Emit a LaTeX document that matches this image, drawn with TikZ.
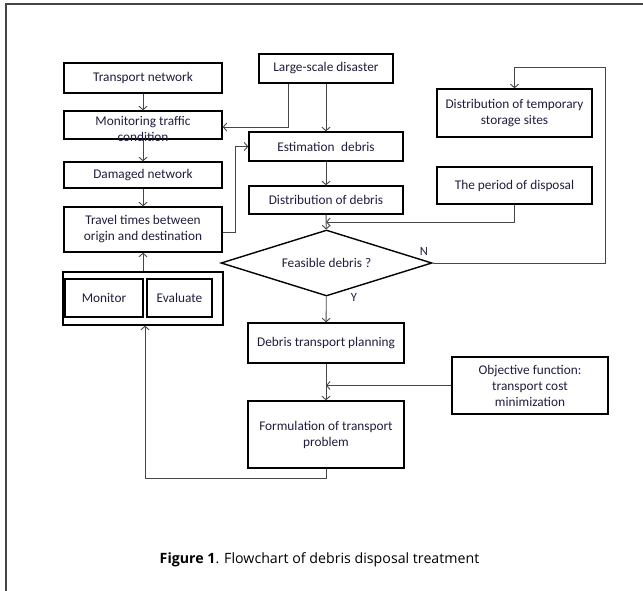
\documentclass[tikz,border=0pt]{standalone}
\usepackage{fontspec}
\setmainfont{Carlito}
\newfontfamily\capfont{Open Sans}
\usetikzlibrary{arrows.meta,shapes.geometric}
\definecolor{txt}{RGB}{30,30,60}
\definecolor{lin}{RGB}{70,70,70}
\tikzset{
  box/.style={draw=black,line width=1.4pt,rectangle,inner sep=0pt,align=center,text=txt,font=\fontsize{13.3}{16}\selectfont},
  dia/.style={draw=black,line width=1.4pt,diamond,aspect=3.2,inner sep=0pt,text=txt,font=\fontsize{13.3}{16}\selectfont},
  conn/.style={draw=lin,line width=0.9pt,-{Straight Barb[length=3.5pt,width=8pt]}},
  lbl/.style={text=txt,font=\fontsize{12.5}{14}\selectfont,inner sep=0pt}
}
\begin{document}
\begin{tikzpicture}[x=1pt,y=-1pt]
\useasboundingbox (0,0) rectangle (643,591);
% frame
\draw[draw=lin,line width=1.5pt] (643,4) -- (6,4) -- (6,591);
% left column
\node[box,minimum width=158,minimum height=30] (tn) at (143,78) {Transport network};
\node[box,minimum width=158,minimum height=28] (mt) at (143,125) {};
\node[box,draw=none] (mtt) at (143,129) {Monitoring traffic\\condition};
\node[box,minimum width=158,minimum height=26] (dn) at (143,175) {Damaged network};
\node[box,minimum width=158,minimum height=45] (tt) at (143,229.5) {Travel times between\\origin and destination};
\node[box,minimum width=160,minimum height=53] (me) at (143,298.5) {};
\node[box,minimum width=78,minimum height=38] (mon) at (104,298) {Monitor};
\node[box,minimum width=65,minimum height=38] (ev) at (179.5,298) {Evaluate};
% middle column
\node[box,minimum width=134,minimum height=29] (lsd) at (326,68.5) {Large-scale disaster};
\node[box,minimum width=154,minimum height=29] (ed) at (326,146.5) {Estimation\enspace debris};
\node[box,minimum width=154,minimum height=28] (dd) at (326,200) {Distribution of debris};
\node[dia,minimum width=211,minimum height=66] (fd) at (326.5,263) {Feasible debris ?};
\node[box,minimum width=156,minimum height=40] (dtp) at (326,343) {Debris transport planning};
\node[box,minimum width=156,minimum height=67] (fm) at (326,434.5) {Formulation of transport\\problem};
% right column
\node[box,minimum width=155,minimum height=48] (dts) at (514.5,113) {Distribution of temporary\\storage sites};
\node[box,minimum width=155,minimum height=37] (pd) at (514.5,185.5) {The period of disposal};
\node[box,minimum width=156,minimum height=57] (of) at (530,385.5) {Objective function:\\transport cost\\minimization};
% connectors
\draw[conn] (tn) -- (mt);
\draw[conn] (mt) -- (dn);
\draw[conn] (dn) -- (tt);
\draw[conn] (me) -- (tt);
\draw[conn] ([xshift=-38pt]lsd.south) |- ([yshift=-2pt]mt.east);
\draw[conn] (lsd) -- (ed);
\draw[conn] ([yshift=-2.5pt]tt.east) -- ++(13,0) |- (ed.west);
\draw[conn] (ed) -- (dd);
\draw[conn] (dd) -- (fd);
\coordinate (jn) at (326,222);
\draw[conn] (pd.south) |- (jn);
\coordinate (nr) at (605,67);
\draw[conn] (fd.east) -| (nr) -| (dts.north);
\draw[conn] (fd) -- (dtp);
\draw[conn] (dtp) -- (fm);
\draw[conn] (of.west) -- (of.west -| dtp.south);
\coordinate (fb) at (145,478);
\draw[conn] (fm.south) |- (fb) -- (fb |- me.south);
\node[lbl] (nl) at (424,251) {N};
\node[lbl] (yl) at (354,297) {Y};
% caption
\node[inner sep=0pt,font=\capfont\fontsize{14.2}{16}\selectfont] (cap) at (319.5,560) {\textbf{Figure 1}. Flowchart of debris disposal treatment};
\end{tikzpicture}
\end{document}
